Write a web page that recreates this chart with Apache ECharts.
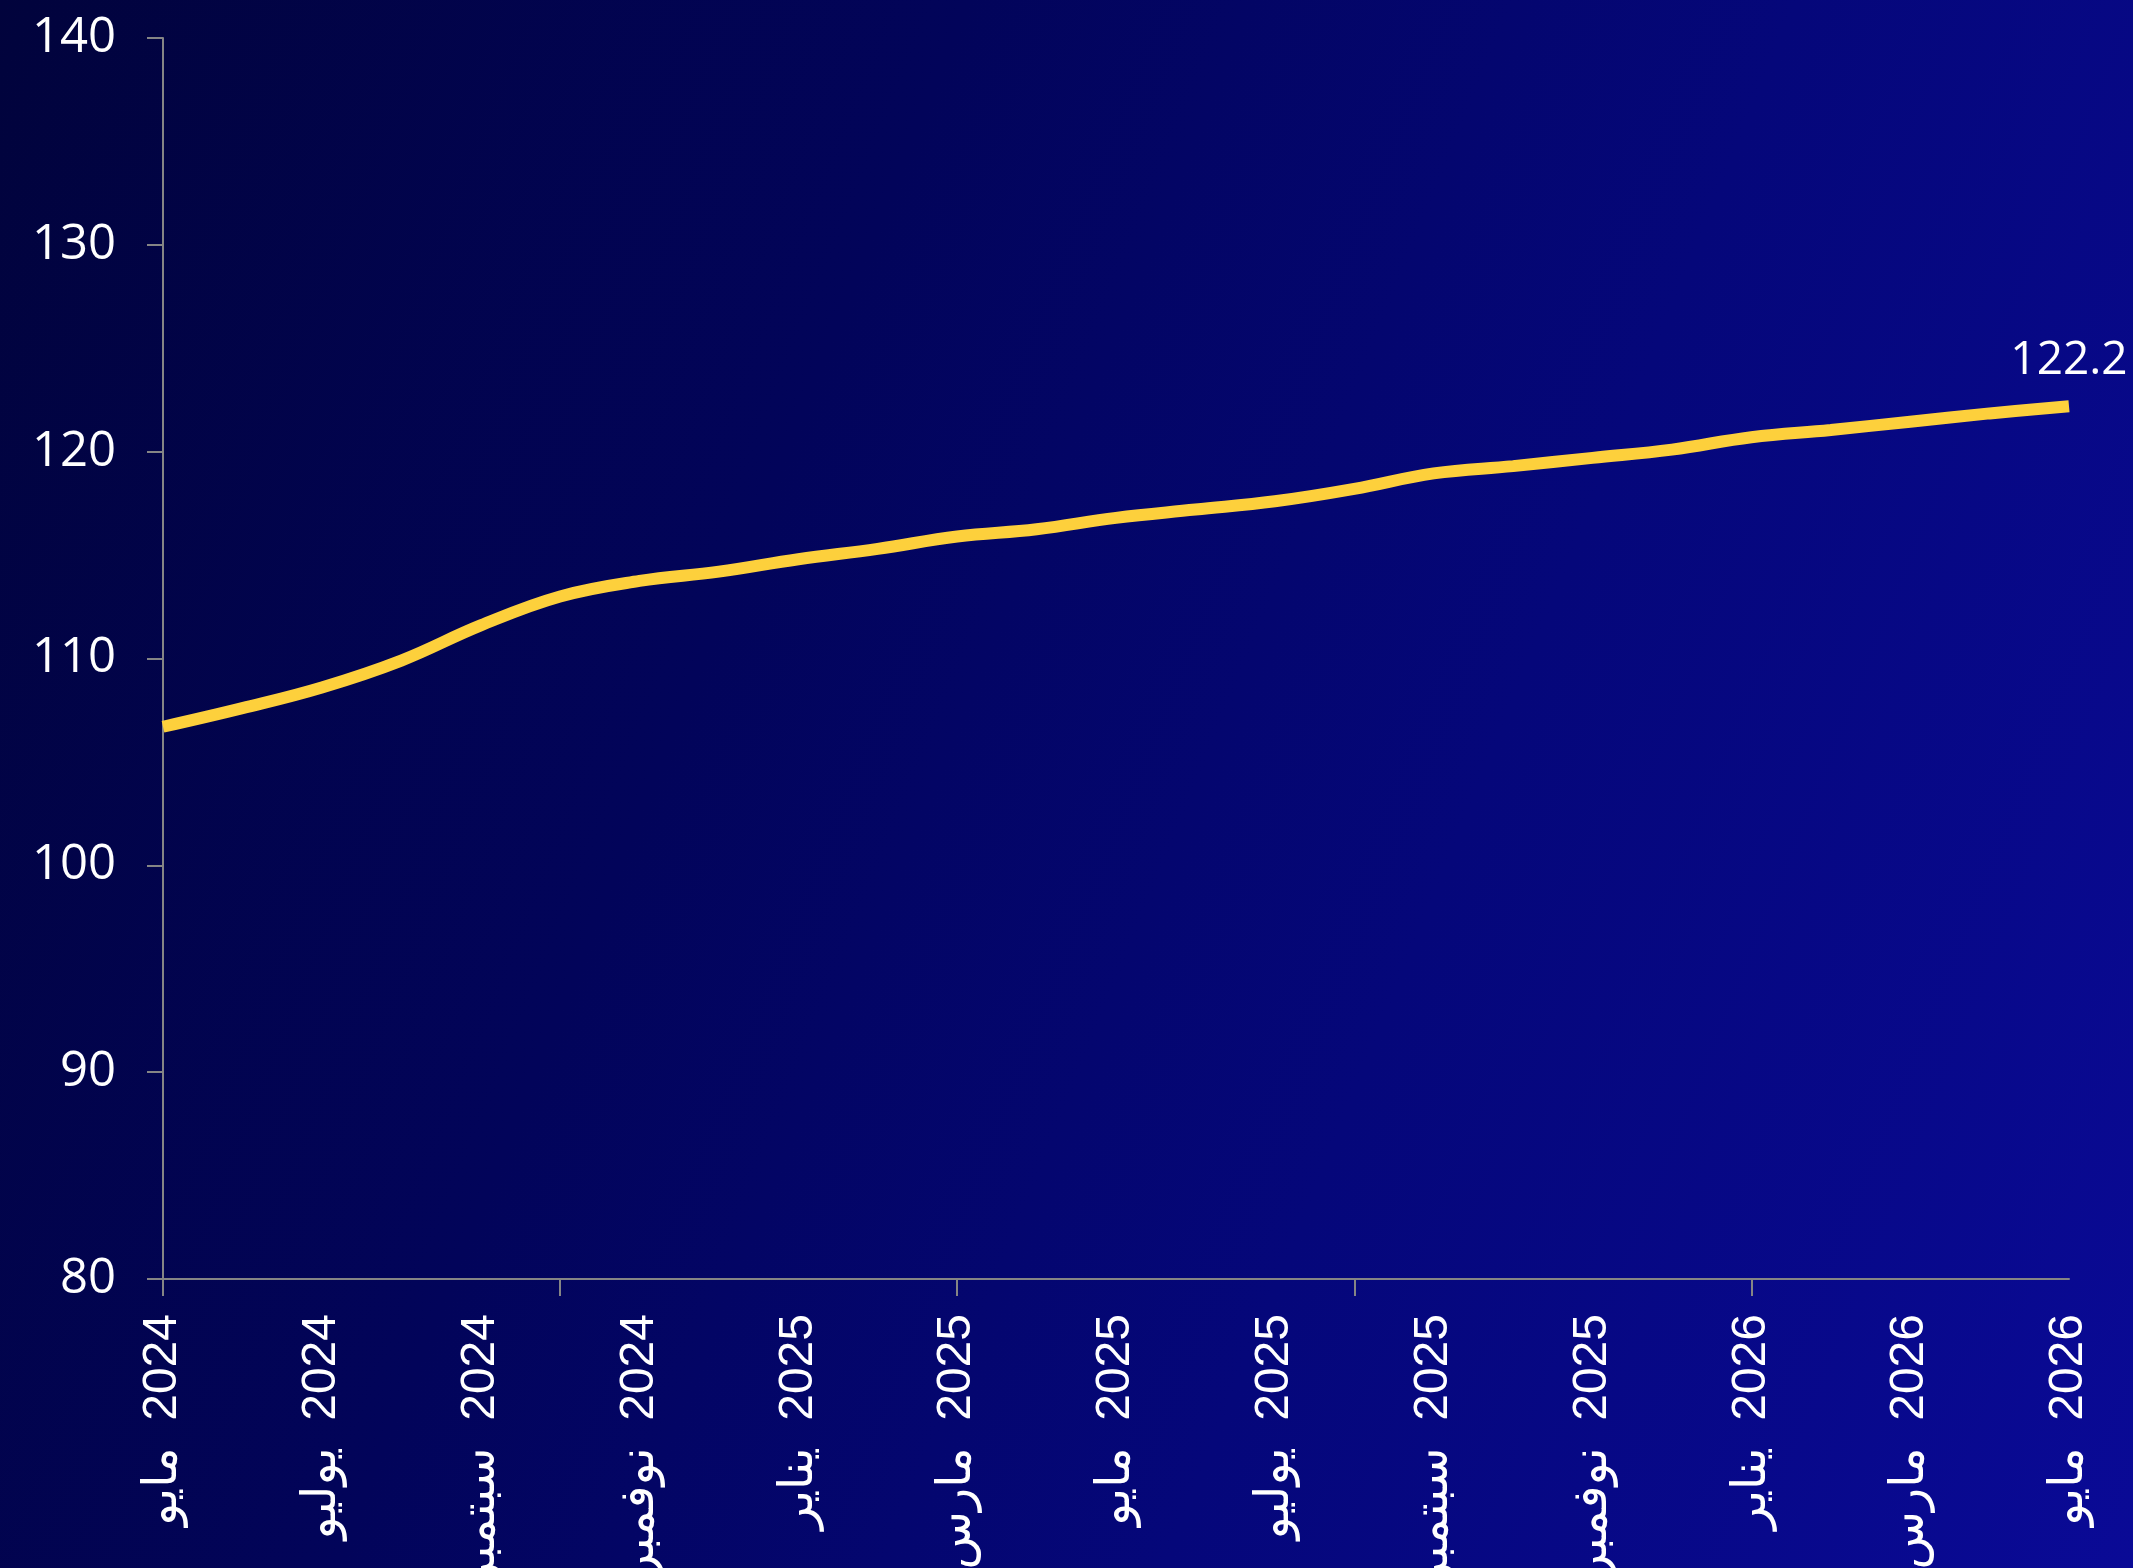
<!DOCTYPE html>
<html>
<head>
<meta charset="utf-8">
<script src="https://cdn.jsdelivr.net/npm/echarts@6/dist/echarts.min.js"></script>
<style>
  html, body { margin:0; padding:0; width:2133px; height:1568px; overflow:hidden;
    background: linear-gradient(112deg, #01033c 0%, #02045a 35%, #05077a 65%, #0a0a96 100%); }
  #chart { width:2133px; height:1568px; }
</style>
</head>
<body>
<div id="chart"></div>
<script>
const months = ['مايو','يونيو','يوليو','أغسطس','سبتمبر','أكتوبر','نوفمبر','ديسمبر','يناير','فبراير','مارس','أبريل',
                'مايو','يونيو','يوليو','أغسطس','سبتمبر','أكتوبر','نوفمبر','ديسمبر','يناير','فبراير','مارس','أبريل','مايو'];
const years = ['2024','2024','2024','2024','2024','2024','2024','2024','2025','2025','2025','2025',
               '2025','2025','2025','2025','2025','2025','2025','2025','2026','2026','2026','2026','2026'];
const values = [106.7, 107.6, 108.6, 109.9, 111.6, 113.0, 113.75, 114.2, 114.8, 115.3, 115.9, 116.25,
                116.8, 117.2, 117.6, 118.2, 118.95, 119.3, 119.7, 120.1, 120.7, 121.05, 121.45, 121.85, 122.2];
const yTicks = [80, 90, 100, 110, 120, 130, 140];

const categories = months.map((m, i) => m + '\u200E  ' + years[i]);
const last = values.length - 1;
const seriesData = values.map((v, i) => i === last ? { value: v, label: { show: true } } : v);

const chart = echarts.init(document.getElementById('chart'));
chart.setOption({
  backgroundColor: 'transparent',
  animation: false,
  grid: { left: 163, right: 64, top: 38, bottom: 289, containLabel: false, outerBoundsMode: 'none' },
  xAxis: {
    type: 'category',
    data: categories,
    boundaryGap: false,
    axisLine: { show: true, lineStyle: { color: '#858585', width: 2 } },
    axisTick: { show: true, interval: 4, length: 17, lineStyle: { color: '#858585', width: 2 } },
    axisLabel: {
      interval: 1, rotate: 90, margin: 35, color: '#ffffff',
      fontSize: 48, fontFamily: '"Liberation Sans", "DejaVu Sans", sans-serif'
    },
    splitLine: { show: false }
  },
  yAxis: {
    type: 'value',
    min: yTicks[0], max: yTicks[yTicks.length - 1], interval: 10,
    axisLine: { show: true, lineStyle: { color: '#858585', width: 2 } },
    axisTick: { show: true, length: 16, lineStyle: { color: '#858585', width: 2 } },
    axisLabel: { margin: 47, color: '#ffffff', fontSize: 49, fontFamily: '"Open Sans", sans-serif' },
    splitLine: { show: false }
  },
  series: [{
    type: 'line',
    data: seriesData,
    smooth: 0.4,
    symbol: 'circle',
    symbolSize: 1,
    showSymbol: true,
    itemStyle: { color: 'rgba(0,0,0,0)', borderWidth: 0 },
    lineStyle: { color: '#fdd03c', width: 12, cap: 'butt' },
    label: {
      show: false, position: 'top', distance: 22, color: '#ffffff',
      fontSize: 46, fontFamily: '"Open Sans", sans-serif',
      formatter: p => p.value.toFixed(1)
    },
    labelLayout: { hideOverlap: false }
  }]
});
</script>
</body>
</html>
